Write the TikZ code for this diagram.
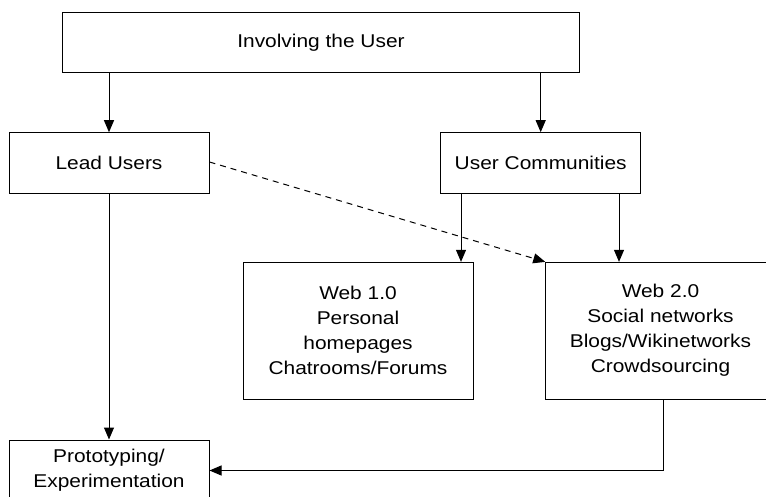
\documentclass[tikz,border=0pt]{standalone}
\usepackage{fontspec}
\setmainfont{Liberation Sans}[FakeStretch=1.13]
\usetikzlibrary{arrows.meta,calc}

\begin{document}
\begin{tikzpicture}[x=1pt,y=-1pt,
  box/.style={draw,line width=1pt,align=center,inner sep=0pt,
              font=\fontsize{18.5}{25}\selectfont},
  arr/.style={line width=1pt,-{Triangle[length=12pt,width=10pt]}},
  dasharr/.style={arr,dash pattern=on 6pt off 5pt}]
\useasboundingbox (0,0) rectangle (766,496);
\clip (0,0) rectangle (766,496);

% boxes
\node[box,minimum width=517pt,minimum height=60pt] (top) at (321,42.7) {Involving the User};
\node[box,minimum width=200pt,minimum height=60.6pt] (lead) at (109,163) {Lead Users};
\node[box,minimum width=199.5pt,minimum height=60.6pt] (uc) at (540.7,163) {User Communities};
\node[box,minimum width=230pt,minimum height=136.7pt] (web1) at (358,330.7)
  {Web 1.0\\Personal\\homepages\\Chatrooms/Forums};
\node[box,minimum width=229.5pt,minimum height=136.7pt] (web2) at (660.5,330.7)
  {Web 2.0\\Social networks\\Blogs/Wikinetworks\\Crowdsourcing};
\node[box,minimum width=200pt,minimum height=61pt] (proto) at (109,470.5)
  {Prototyping/\\Experimentation};

% connectors
\draw[arr] (top.south -| lead.north) -- (lead.north);
\draw[arr] (top.south -| uc.north) -- (uc.north);
\draw[arr] (lead.south) -- (proto.north);
\draw[arr] ([xshift=-79.7pt]uc.south) -- ([xshift=-79.7pt]uc.south |- web1.north);
\draw[arr] ([xshift=78.3pt]uc.south) -- ([xshift=78.3pt]uc.south |- web2.north);
\draw[dasharr] ([yshift=1pt]lead.east) -- (web2.north west);
\draw[arr] ([xshift=2.5pt]web2.south) |- (proto.east);
\end{tikzpicture}
\end{document}
